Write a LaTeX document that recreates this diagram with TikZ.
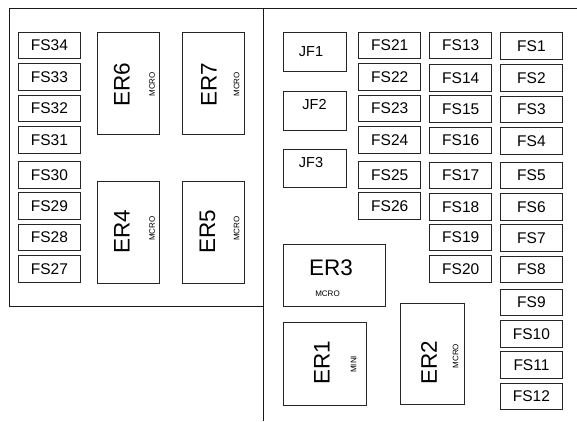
\documentclass[tikz,border=0pt]{standalone}
\usepackage{fontspec}
\setmainfont{Liberation Sans}
\begin{document}
\begin{tikzpicture}[x=1pt,y=-1pt,
  frame/.style={draw=black!90, line width=1pt},
  box/.style={draw=black!85, line width=0.9pt, inner sep=0pt, anchor=north west},
  fsbox/.style={box, minimum width=62pt, minimum height=26.7pt, font=\fontsize{15.5}{16}\selectfont},
  jfbox/.style={box, minimum width=62.7pt, minimum height=38.5pt},
  jftext/.style={inner sep=0pt, font=\fontsize{14.5}{15}\selectfont},
  ertext/.style={inner sep=0pt, font=\fontsize{22.5}{23}\selectfont},
  smalltext/.style={inner sep=0pt, font=\fontsize{8}{9}\selectfont}]
\useasboundingbox (0,0) rectangle (577,421);
% frame
\coordinate (tl) at (9,8);
\coordinate (tr) at (577,8);
\coordinate (bl) at (9,306);
\coordinate (bm) at (263,306);
\coordinate (vt) at (263,8);
\coordinate (vb) at (263,421);
\draw[frame] (bl) -- (tl) -- (tr);
\draw[frame] (bl) -- (bm);
\draw[frame] (vt) -- (vb);
% left column FS34..FS27
\foreach \n/\y in {34/31.7,33/63.3,32/94.7,31/126,30/161,29/192.3,28/223.7,27/255}
  \node[fsbox] (FS\n) at (18,\y) {FS\n};
% FS21..FS26
\foreach \n/\y in {21/31.7,22/63.3,23/94.7,24/126,25/161,26/192.3}
  \node[fsbox] (FS\n) at (358.3,\y) {FS\n};
% FS13..FS20
\foreach \n/\y in {13/31.7,14/64,15/95.3,16/126.7,17/161.7,18/193,19/223.7,20/255}
  \node[fsbox] (FS\n) at (429.3,\y) {FS\n};
% FS1..FS12
\foreach \n/\y in {1/32.3,2/64.3,3/95.7,4/127,5/161.7,6/193,7/224.3,8/255.7,9/288.7,10/320,11/351.3,12/382.7}
  \node[fsbox] (FS\n) at (500,\y) {FS\n};
% JF boxes
\node[jfbox] (JF1) at (283.3,32.3) {};
\node[jftext] (JF1t) at (311,51.7) {JF1};
\node[jfbox] (JF2) at (283.3,91) {};
\node[jftext] (JF2t) at (314.5,104.5) {JF2};
\node[jfbox] (JF3) at (283.3,148.7) {};
\node[jftext] (JF3t) at (311,162.5) {JF3};
% ER6, ER7
\node[box, minimum width=62pt, minimum height=101.7pt] (ER6) at (96.7,32.3) {};
\node[ertext, rotate=90] (ER6t) at (122,84.7) {ER6};
\node[smalltext, rotate=90] (ER6m) at (152,84.3) {MCRO};
\node[box, minimum width=62.3pt, minimum height=101.7pt] (ER7) at (182,32.3) {};
\node[ertext, rotate=90] (ER7t) at (209,84.7) {ER7};
\node[smalltext, rotate=90] (ER7m) at (236.5,84.3) {MCRO};
% ER4, ER5
\node[box, minimum width=62pt, minimum height=101.7pt] (ER4) at (96.7,181) {};
\node[ertext, rotate=90] (ER4t) at (122,232) {ER4};
\node[smalltext, rotate=90] (ER4m) at (152,228.5) {MCRO};
\node[box, minimum width=62.3pt, minimum height=101.7pt] (ER5) at (182,181) {};
\node[ertext, rotate=90] (ER5t) at (207.5,232) {ER5};
\node[smalltext, rotate=90] (ER5m) at (236.5,228.5) {MCRO};
% ER3
\node[box, minimum width=102pt, minimum height=61.7pt] (ER3) at (283.3,244.3) {};
\node[ertext] (ER3t) at (331,267.5) {ER3};
\node[smalltext] (ER3m) at (327.5,294) {MCRO};
% ER1
\node[box, minimum width=82.7pt, minimum height=83.3pt] (ER1) at (283.3,321.7) {};
\node[ertext, rotate=90] (ER1t) at (322,362.5) {ER1};
\node[smalltext, rotate=90] (ER1m) at (353.5,364.3) {MINI};
% ER2
\node[box, minimum width=63.4pt, minimum height=101pt] (ER2) at (400.3,303.3) {};
\node[ertext, rotate=90] (ER2t) at (429,362.5) {ER2};
\node[smalltext, rotate=90] (ER2m) at (455.5,356) {MCRO};
\end{tikzpicture}
\end{document}
